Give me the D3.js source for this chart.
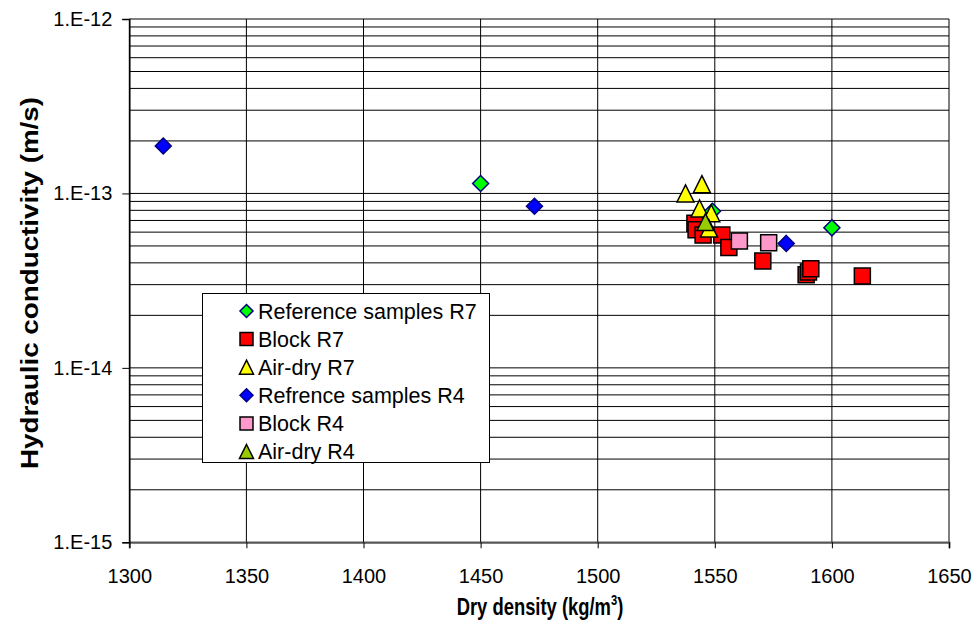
<!DOCTYPE html>
<html>
<head>
<meta charset="utf-8">
<script src="https://cdn.jsdelivr.net/npm/d3@7"></script>
<style>
  body { margin: 0; background: #fff; }
  text { font-family: Arial, "Liberation Sans", sans-serif; }
</style>
</head>
<body>
<svg id="chart" width="976" height="626"></svg>
<script>
// ---- Data ----
const refR7_x = [1450, 1549, 1600];
const refR7_k = [1.14e-13, 7.9e-14, 6.35e-14];

const blockR7_x = [1541.5, 1542, 1545, 1553, 1556, 1570.5, 1589, 1590, 1591, 1613];
const blockR7_k = [6.75e-14, 6.2e-14, 5.77e-14, 5.77e-14, 4.9e-14, 4.1e-14, 3.42e-14, 3.55e-14, 3.7e-14, 3.36e-14];

const airR7_x = [1537.5, 1544.5, 1543.5, 1548.5, 1547.5];
const airR7_k = [1.0e-13, 1.13e-13, 8.2e-14, 7.7e-14, 6.3e-14];

const refR4_x = [1314.5, 1473, 1580.5];
const refR4_k = [1.87e-13, 8.45e-14, 5.17e-14];

const blockR4_x = [1560.5, 1573];
const blockR4_k = [5.33e-14, 5.22e-14];

const airR4_x = [1546];
const airR4_k = [6.85e-14];

const seriesNames = ["Reference samples R7", "Block R7", "Air-dry R7", "Refrence samples R4", "Block R4", "Air-dry R4"];
const xTicks = [1300, 1350, 1400, 1450, 1500, 1550, 1600, 1650];
const yTicks = [1e-15, 1e-14, 1e-13, 1e-12];
const yTickLabels = ["1.E-15", "1.E-14", "1.E-13", "1.E-12"];

// ---- Build series ----
const zip = (xs, ks) => xs.map((x, i) => ({x: x, k: ks[i]}));
const series = [
  {name: seriesNames[0], pts: zip(refR7_x, refR7_k), shape: "diamond", fill: "#00ff00", stroke: "#000080"},
  {name: seriesNames[1], pts: zip(blockR7_x, blockR7_k), shape: "square", fill: "#ff0000", stroke: "#000000"},
  {name: seriesNames[2], pts: zip(airR7_x, airR7_k), shape: "triangle", fill: "#ffff00", stroke: "#000000"},
  {name: seriesNames[3], pts: zip(refR4_x, refR4_k), shape: "diamond", fill: "#0000ff", stroke: "#000080"},
  {name: seriesNames[4], pts: zip(blockR4_x, blockR4_k), shape: "square", fill: "#ff99cc", stroke: "#000000"},
  {name: seriesNames[5], pts: zip(airR4_x, airR4_k), shape: "triangle", fill: "#99cc00", stroke: "#000000"}
];

const svg = d3.select("#chart");
const L = 129.3, R = 949, T = 19, B = 542.3;
const x = d3.scaleLinear().domain([1300, 1650]).range([L, R]);
const y = d3.scaleLog().domain([1e-15, 1e-12]).range([B, T]);

// ---- Gridlines ----
const grid = svg.append("g");
const minor = [];
for (let e = -15; e < -12; e++) {
  for (let m = 1; m <= 9; m++) minor.push(m * Math.pow(10, e));
}
minor.push(1e-12);
grid.selectAll("line.h").data(minor).join("line")
  .attr("x1", L).attr("x2", R)
  .attr("y1", d => y(d)).attr("y2", d => y(d))
  .attr("stroke", "#000").attr("stroke-width", 1);
grid.selectAll("line.v").data(xTicks).join("line")
  .attr("y1", T).attr("y2", B)
  .attr("x1", d => x(d)).attr("x2", d => x(d))
  .attr("stroke", "#000").attr("stroke-width", 1);

// ---- Axes ----
const xAxis = d3.axisBottom(x).tickValues(xTicks).tickSize(6).tickPadding(21).tickFormat(d3.format("d"));
const gx = svg.append("g").attr("transform", `translate(0,${B})`).call(xAxis);
gx.select(".domain").attr("stroke", "#555").attr("stroke-width", 2);
gx.selectAll("text").attr("font-size", 20).attr("fill", "#000").attr("font-family", "Arial, 'Liberation Sans', sans-serif");

const yAxis = d3.axisLeft(y).tickValues(yTicks).tickSize(7).tickPadding(10)
  .tickFormat((d, i) => yTickLabels[yTicks.indexOf(d)]);
const gy = svg.append("g").attr("transform", `translate(${L},0)`).call(yAxis);
gy.select(".domain").attr("stroke", "#000").attr("stroke-width", 1.5);
gy.selectAll("text").attr("font-size", 20).attr("fill", "#000").attr("font-family", "Arial, 'Liberation Sans', sans-serif");

// ---- Markers ----
const sq = 16, di = 16, tri = 17;
function shapePath(shape, s) {
  if (shape === "square") return `M${-s/2},${-s/2}H${s/2}V${s/2}H${-s/2}Z`;
  if (shape === "diamond") return `M0,${-s/2}L${s/2},0L0,${s/2}L${-s/2},0Z`;
  return `M0,${-s/2}L${s/2},${s/2}L${-s/2},${s/2}Z`;
}
series.forEach(sr => {
  const size = sr.shape === "square" ? sq : (sr.shape === "diamond" ? di : tri);
  svg.append("g").selectAll("path").data(sr.pts).join("path")
    .attr("transform", d => `translate(${x(d.x)},${y(d.k)})`)
    .attr("d", shapePath(sr.shape, size))
    .attr("fill", sr.fill).attr("stroke", sr.stroke).attr("stroke-width", 1.5);
});

// ---- Legend ----
const lg = svg.append("g");
lg.append("rect").attr("x", 202.5).attr("y", 293.5).attr("width", 287).attr("height", 169)
  .attr("fill", "#fff").attr("stroke", "#000").attr("stroke-width", 1);
series.forEach((sr, i) => {
  const cy = 311 + i * 28.1;
  const size = sr.shape === "square" ? 13 : (sr.shape === "diamond" ? 13 : 14);
  lg.append("path").attr("transform", `translate(246.5,${cy})`)
    .attr("d", shapePath(sr.shape, size))
    .attr("fill", sr.fill).attr("stroke", sr.stroke).attr("stroke-width", 1.5);
  lg.append("text").attr("x", 258).attr("y", cy).attr("dy", "0.36em")
    .attr("font-size", 21.5).text(sr.name);
});

// ---- Titles ----
svg.append("text").attr("transform", "translate(38,283) rotate(-90)")
  .attr("text-anchor", "middle").attr("font-size", 23).attr("font-weight", "bold")
  .attr("textLength", 372).attr("lengthAdjust", "spacingAndGlyphs")
  .text("Hydraulic conductivity (m/s)");
const xt = svg.append("text").attr("transform", "translate(540,615) scale(0.8,1)")
  .attr("text-anchor", "middle").attr("font-size", 23).attr("font-weight", "bold");
xt.append("tspan").text("Dry density (kg/m");
xt.append("tspan").attr("font-size", 14).attr("dy", -10).text("3");
xt.append("tspan").attr("dy", 10).text(")");
</script>
</body>
</html>
